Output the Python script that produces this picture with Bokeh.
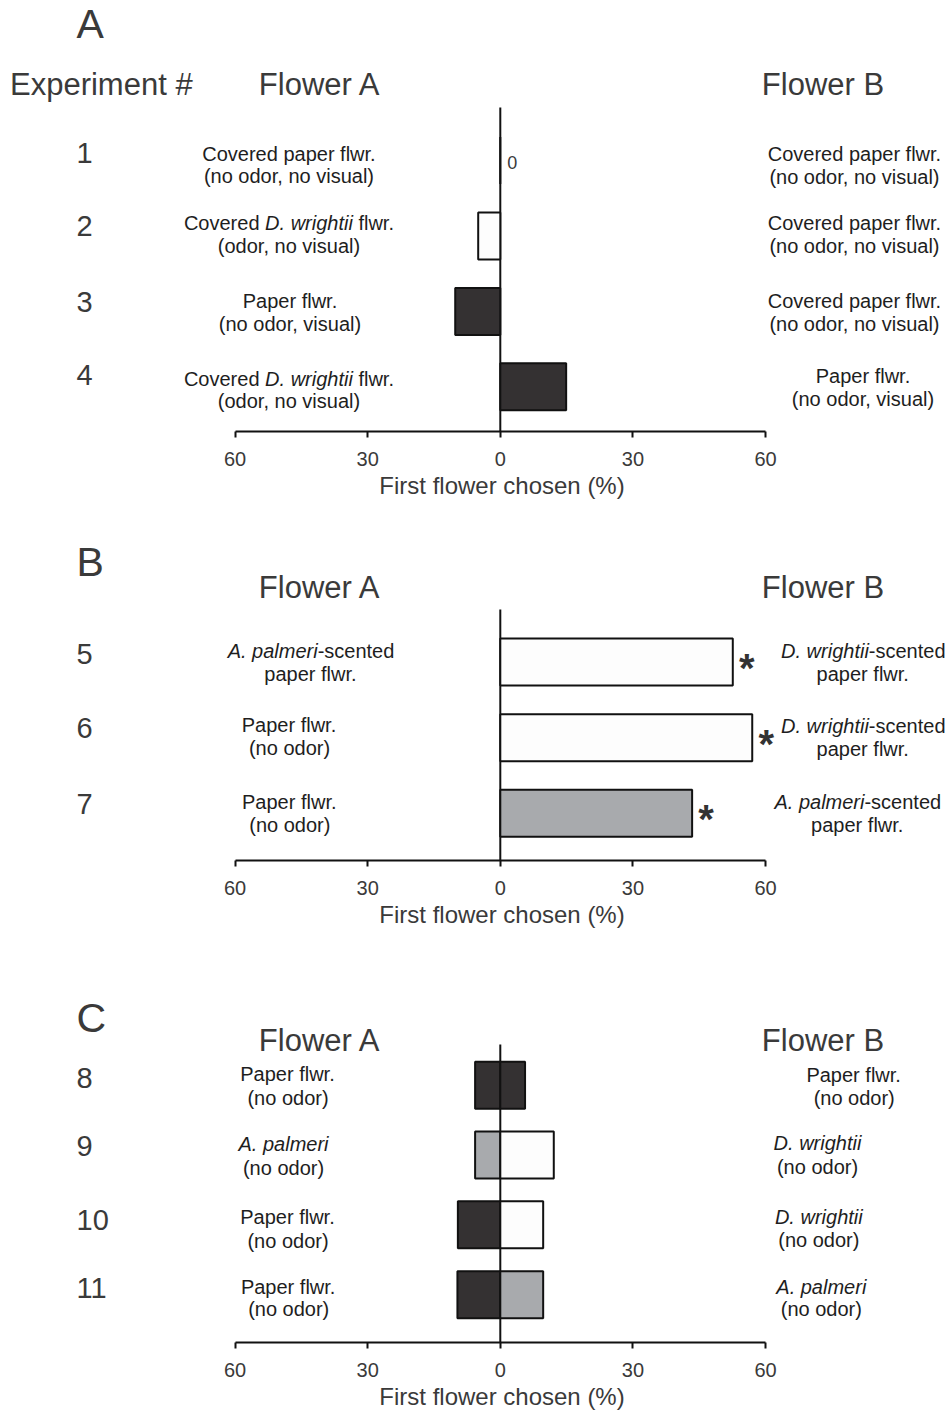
from bokeh.plotting import figure
from bokeh.layouts import column
from bokeh.models import Range1d, FixedTicker, ColumnDataSource, Title
from bokeh.core.properties import value
from bokeh.embed import file_html
from bokeh.resources import INLINE

FONT = "Liberation Sans"

# ---------------- data ----------------
# Panel A (experiments 1-4): signed % (negative = towards Flower A)
exp_a = ["1", "2", "3", "4"]
val_a = [0.0, -5.0, -10.2, 14.9]
fill_a = ["white", "white", "dark", "dark"]
flower_a_a = ["Covered paper flwr.\n(no odor, no visual)",
              "Covered _D. wrightii_ flwr.\n(odor, no visual)",
              "Paper flwr.\n(no odor, visual)",
              "Covered _D. wrightii_ flwr.\n(odor, no visual)"]
flower_b_a = ["Covered paper flwr.\n(no odor, no visual)",
              "Covered paper flwr.\n(no odor, no visual)",
              "Covered paper flwr.\n(no odor, no visual)",
              "Paper flwr.\n(no odor, visual)"]

# Panel B (experiments 5-7)
exp_b = ["5", "6", "7"]
val_b = [52.6, 57.0, 43.4]
fill_b = ["white", "white", "grey"]
sig_b = [True, True, True]
flower_a_b = ["_A. palmeri_-scented\npaper flwr.",
              "Paper flwr.\n(no odor)",
              "Paper flwr.\n(no odor)"]
flower_b_b = ["_D. wrightii_-scented\npaper flwr.",
              "_D. wrightii_-scented\npaper flwr.",
              "_A. palmeri_-scented\npaper flwr."]

# Panel C (experiments 8-11): both flowers per row
exp_c = ["8", "9", "10", "11"]
val_c_a = [-5.7, -5.7, -9.6, -9.7]
val_c_b = [5.6, 12.1, 9.7, 9.7]
fill_c_a = ["dark", "grey", "dark", "dark"]
fill_c_b = ["dark", "white", "white", "grey"]
flower_a_c = ["Paper flwr.\n(no odor)", "_A. palmeri_\n(no odor)",
              "Paper flwr.\n(no odor)", "Paper flwr.\n(no odor)"]
flower_b_c = ["Paper flwr.\n(no odor)", "_D. wrightii_\n(no odor)",
              "_D. wrightii_\n(no odor)", "_A. palmeri_\n(no odor)"]

tick_values = [-60, -30, 0, 30, 60]
tick_labels = ["60", "30", "0", "30", "60"]
axis_title = "First flower chosen (%)"

# ---------------- styles / layout ----------------
FILLS = {"dark": "#343132", "grey": "#a8aaad", "white": "#fdfdfd"}
LINE = "#111111"
HEAD_C = "#3a3a3a"
LAB_C = "#1e1e1e"
PAGE = 0
FIG_W = 948
X_ZERO = 499.8
PX_PER = 4.42

S_LETTER, S_HEAD, S_NUM, S_LAB, S_TICK, S_AXL, S_ZERO, S_STAR = 41, 31, 29, 20, 20, 24, 18, 40
CAP = -0.03  # baseline correction (y param relative to cap centre, in em)
AXL_CENTER_X = 501.5  # axis title centre (px)
AXL_STANDOFF = 2

W = {' ': 278, '#': 556, '%': 889, '(': 333, ')': 333, ',': 278, '-': 333, '.': 278, '*': 389}
for ch in "0123456789":
    W[ch] = 556
W.update({'A': 667, 'B': 667, 'C': 722, 'D': 722, 'E': 667, 'F': 611, 'P': 667,
          'a': 556, 'b': 556, 'c': 500, 'd': 556, 'e': 556, 'f': 278, 'g': 556, 'h': 556,
          'i': 222, 'j': 222, 'k': 500, 'l': 222, 'm': 833, 'n': 556, 'o': 556, 'p': 556,
          'q': 556, 'r': 333, 's': 500, 't': 278, 'u': 556, 'v': 500, 'w': 722, 'x': 500,
          'y': 500, 'z': 500})


def tw(s, size):
    return sum(W.get(c, 556) for c in s) / 1000.0 * size


SH = 0  # vertical shift of panel C
LAY_A = dict(top=0, bottom=520, axis=431, row0=160.1, step=75.4, bar=47, zero_top=107,
             letter=("A", 25), header=85, exp_header=True,
             num_y=[153.3, 226.7, 302.5, 375.3],
             a_x=[289, 289, 290, 289], a_y=[[153.7, 176.5], [223, 246.5], [301, 324.5], [379, 401.5]],
             b_x=[854.5, 854.5, 854.5, 863], b_y=[[154, 177], [223.3, 246.5], [301.3, 324.5], [376.3, 399.5]])
LAY_B = dict(top=520, bottom=990, axis=860, row0=661.5, step=75.65, bar=47, zero_top=609,
             letter=("B", 562.5), header=587.5, exp_header=False,
             num_y=[654.5, 728.3, 804],
             a_x=[310.5, 289, 289.3], a_y=[[651.5, 674], [725.5, 748.5], [802.5, 825.5]],
             b_x=[862.8, 862.8, 857.3], b_y=[[650.7, 674], [725.7, 749], [802, 825.5]])
LAY_C = dict(top=990, bottom=1410, axis=1342 + SH, row0=1084.7 + SH, step=69.83, bar=47,
             zero_top=1044 + SH, letter=("C", 1018.5 + SH), header=1041 + SH, exp_header=False,
             num_y=[v + SH for v in [1078, 1146, 1220, 1288]],
             a_x=[287.5, 283, 287.5, 288.2],
             a_y=[[a + SH, b + SH] for a, b in [[1074.5, 1098], [1144, 1167.7], [1217, 1241], [1286.7, 1309.3]]],
             b_x=[853.7, 817, 818.3, 820.8],
             b_y=[[a + SH, b + SH] for a, b in [[1075, 1098], [1143, 1166.7], [1216.7, 1240], [1286.7, 1309.3]]])


def make_panel(lay, exps, label_a, label_b):
    h = lay["bottom"] - lay["top"]

    def yd(ry):
        return (ry - lay["row0"]) / lay["step"]

    def xd(rx):
        return (rx - X_ZERO) / PX_PER

    p = figure(width=FIG_W, height=h,
               x_range=Range1d(xd(PAGE), xd(PAGE + FIG_W)),
               y_range=Range1d(yd(lay["axis"]), yd(lay["top"])),
               y_axis_location=None, toolbar_location=None, output_backend="svg",
               min_border_left=0, min_border_right=0, min_border_top=0,
               min_border_bottom=lay["bottom"] - lay["axis"])
    p.outline_line_color = None
    p.xgrid.visible = False
    p.ygrid.visible = False
    p.background_fill_color = "white"
    p.border_fill_color = "white"

    ax = p.xaxis[0]
    ax.ticker = FixedTicker(ticks=tick_values)
    ax.major_label_overrides = dict(zip(tick_values, tick_labels))
    ax.bounds = (tick_values[0], tick_values[-1])
    ax.axis_line_width = 2
    ax.axis_line_color = LINE
    ax.major_tick_line_width = 2
    ax.major_tick_line_color = LINE
    ax.major_tick_out = 6
    ax.major_tick_in = 0
    ax.minor_tick_line_color = None
    ax.major_label_text_font = FONT
    ax.major_label_text_font_size = f"{S_TICK}px"
    ax.major_label_text_color = HEAD_C
    ax.major_label_standoff = 14

    # axis title below the axis, centred under the axis' zero (not the whole frame)
    p.add_layout(Title(text=axis_title, align="left",
                       offset=AXL_CENTER_X - PAGE - tw(axis_title, S_AXL) / 2.0,
                       text_font=FONT, text_font_size=f"{S_AXL}px",
                       text_font_style="normal", text_color=HEAD_C,
                       standoff=AXL_STANDOFF), "below")

    # zero reference line
    p.segment(x0=[0], y0=[yd(lay["zero_top"])], x1=[0], y1=[yd(lay["axis"])],
              line_color=LINE, line_width=2)

    groups = {}

    def add(rx, cap_y, text, size, style="normal", color=LAB_C, align="left"):
        key = (size, style, color, align)
        g = groups.setdefault(key, dict(x=[], y=[], text=[]))
        g["x"].append(xd(rx))
        g["y"].append(yd(cap_y + CAP * size))
        g["text"].append(text)

    def add_rich(cx, cap_y, line):
        parts = line.split("_")
        segs = [(t, i % 2 == 1) for i, t in enumerate(parts) if t]
        total = sum(tw(t, S_LAB) for t, _ in segs)
        x = cx - total / 2.0
        for t, it in segs:
            lead = len(t) - len(t.lstrip(" "))
            add(x + tw(" " * lead, S_LAB), cap_y, t.strip(" "), S_LAB,
                "italic" if it else "normal", LAB_C, "left")
            x += tw(t, S_LAB)

    letter, ly = lay["letter"]
    add(76, ly, letter, S_LETTER, color=HEAD_C)
    if lay["exp_header"]:
        add(9.5, lay["header"], "Experiment #", S_HEAD, color=HEAD_C)
    add(319.5, lay["header"], "Flower A", S_HEAD, color=HEAD_C, align="center")
    add(822.5, lay["header"], "Flower B", S_HEAD, color=HEAD_C, align="center")
    for i, e in enumerate(exps):
        add(76, lay["num_y"][i], e, S_NUM, color=HEAD_C)
        for j, line in enumerate(label_a[i].split("\n")):
            add_rich(lay["a_x"][i], lay["a_y"][i][j], line)
        for j, line in enumerate(label_b[i].split("\n")):
            add_rich(lay["b_x"][i], lay["b_y"][i][j], line)

    for (size, style, color, align), g in groups.items():
        p.text(x="x", y="y", text="text", source=ColumnDataSource(g),
               text_font=value(FONT), text_font_size=value(f"{size}px"),
               text_font_style=value(style), text_color=color,
               text_align=align, text_baseline="alphabetic")
    return p, lay


def add_bars(p, lay, vals, fills):
    src = ColumnDataSource(dict(y=list(range(len(vals))),
                                left=[min(v, 0) for v in vals],
                                right=[max(v, 0) for v in vals],
                                fill=[FILLS[f] for f in fills]))
    p.hbar(y="y", left="left", right="right", height=lay["bar"] / lay["step"],
           fill_color="fill", line_color=LINE, line_width=2, source=src)


# Panel A
pa, la = make_panel(LAY_A, exp_a, flower_a_a, flower_b_a)
add_bars(pa, la, val_a, fill_a)
zero_rows = [i for i, v in enumerate(val_a) if v == 0]
pa.text(x=[0] * len(zero_rows), y=zero_rows, text=["0"] * len(zero_rows),
        x_offset=12, y_offset=2, text_font=value(FONT), text_font_size=f"{S_ZERO}px",
        text_color=HEAD_C, text_align="center", text_baseline="alphabetic")

# Panel B
pb, lb = make_panel(LAY_B, exp_b, flower_a_b, flower_b_b)
add_bars(pb, lb, val_b, fill_b)
star_rows = [i for i, s in enumerate(sig_b) if s]
pb.text(x=[val_b[i] for i in star_rows], y=star_rows, text=["*"] * len(star_rows),
        x_offset=14, y_offset=6, text_font=value(FONT), text_font_size=f"{S_STAR}px",
        text_font_style="bold", text_color="#333333", text_align="center",
        text_baseline="alphabetic")

# Panel C
pc, lc = make_panel(LAY_C, exp_c, flower_a_c, flower_b_c)
add_bars(pc, lc, val_c_a, fill_c_a)
add_bars(pc, lc, val_c_b, fill_c_b)

layout = column(pa, pb, pc, spacing=0)
open("out.html", "w").write(file_html(layout, INLINE))
